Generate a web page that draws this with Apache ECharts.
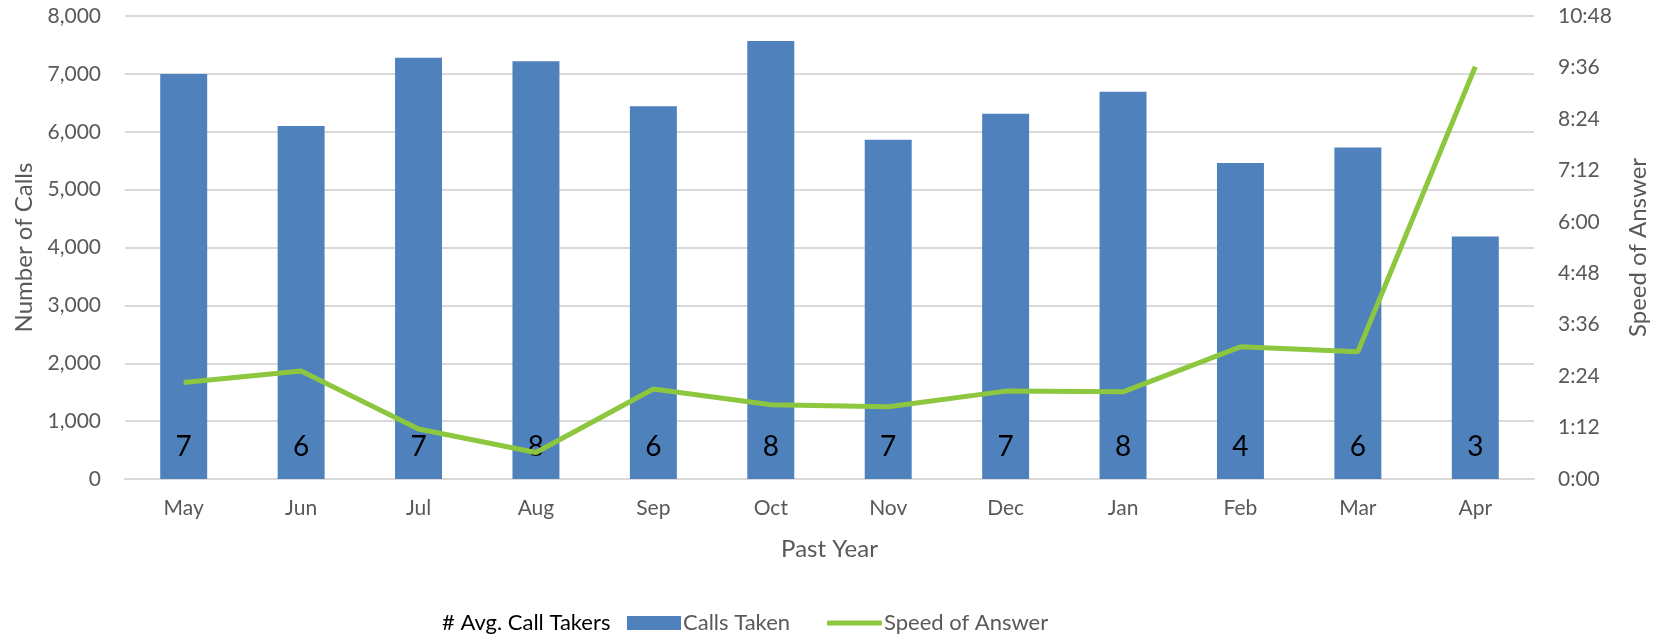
<!DOCTYPE html>
<html>
<head>
<meta charset="utf-8">
<script src="https://cdn.jsdelivr.net/npm/echarts@6/dist/echarts.min.js"></script>
<style>
  html, body { margin: 0; padding: 0; background: #fff; }
  #chart { width: 1663px; height: 634px; }
</style>
</head>
<body>
<div id="chart"></div>
<script>
// months of the past year
var months = ['May', 'Jun', 'Jul', 'Aug', 'Sep', 'Oct', 'Nov', 'Dec', 'Jan', 'Feb', 'Mar', 'Apr'];
// calls taken per month
var callsTaken = [7000, 6100, 7280, 7220, 6440, 7570, 5860, 6310, 6690, 5460, 5730, 4190];
// speed of answer, seconds
var speedOfAnswer = [135, 151, 70, 37, 126, 104, 101, 123, 122, 185, 178, 577];
// average number of call takers
var callTakers = [7, 6, 7, 8, 6, 8, 7, 7, 8, 4, 6, 3];

var font = 'Lato, "Open Sans", sans-serif';
var grey = '#595959';

function mmss(v) {
  var m = Math.floor(v / 60), s = Math.round(v % 60);
  return m + ':' + (s < 10 ? '0' : '') + s;
}

var myChart = echarts.init(document.getElementById('chart'));
myChart.setOption({
  animation: false,
  textStyle: { fontFamily: font },
  grid: { left: 125, right: 129, top: 16, bottom: 155 },
  // three legends so every item can sit where it does in the original
  legend: [{
    top: 607, left: 437, itemWidth: 0, itemGap: 0,
    textStyle: { color: '#000', fontSize: 22, fontFamily: font, padding: [0, 0, 0, -5] },
    data: [{ name: '# Avg. Call Takers', icon: 'none' }]
  }, {
    top: 607, left: 622, itemWidth: 54, itemHeight: 14,
    textStyle: { color: grey, fontSize: 22, fontFamily: font, padding: [0, 0, 0, -3] },
    data: [{ name: 'Calls Taken', icon: 'rect' }]
  }, {
    top: 607, left: 822, itemWidth: 55, itemHeight: 5,
    textStyle: { color: grey, fontSize: 22, fontFamily: font, padding: [0, 0, 0, -3] },
    data: [{ name: 'Speed of Answer', icon: 'roundRect' }]
  }],
  xAxis: {
    type: 'category', data: months,
    name: 'Past Year', nameLocation: 'middle', nameGap: 58,
    nameTextStyle: { color: grey, fontSize: 24 },
    axisLine: { lineStyle: { color: '#D9D9D9', width: 2 } },
    axisTick: { show: false },
    axisLabel: { color: grey, fontSize: 21, margin: 19 }
  },
  yAxis: [{
    type: 'value', min: 0, max: 8000, interval: 1000,
    name: 'Number of Calls', nameLocation: 'middle', nameGap: 88, nameRotate: 90,
    nameTextStyle: { color: grey, fontSize: 24 },
    axisLabel: { color: grey, fontSize: 21, margin: 24,
      formatter: function (v) { return v.toLocaleString('en-US'); } },
    splitLine: { lineStyle: { color: '#D9D9D9', width: 2 } }
  }, {
    type: 'value', min: 0, max: 648, interval: 72,
    name: 'Speed of Answer', nameLocation: 'middle', nameGap: 92, nameRotate: 90,
    nameTextStyle: { color: grey, fontSize: 24 },
    axisLabel: { color: grey, fontSize: 21, margin: 24, formatter: mmss },
    splitLine: { show: false }
  }],
  series: [{
    name: '# Avg. Call Takers', type: 'line', data: []
  }, {
    name: 'Calls Taken', type: 'bar', data: callsTaken, barWidth: '40%',
    itemStyle: { color: '#4F81BD' },
    label: {
      show: true, position: 'insideBottom', distance: 18,
      color: '#000', fontSize: 28,
      formatter: function (p) { return callTakers[p.dataIndex]; }
    }
  }, {
    name: 'Speed of Answer', type: 'line', yAxisIndex: 1, data: speedOfAnswer,
    symbol: 'none', z: 5,
    itemStyle: { color: '#8DC63F' },
    lineStyle: { color: '#8DC63F', width: 5 }
  }]
});
</script>
</body>
</html>
